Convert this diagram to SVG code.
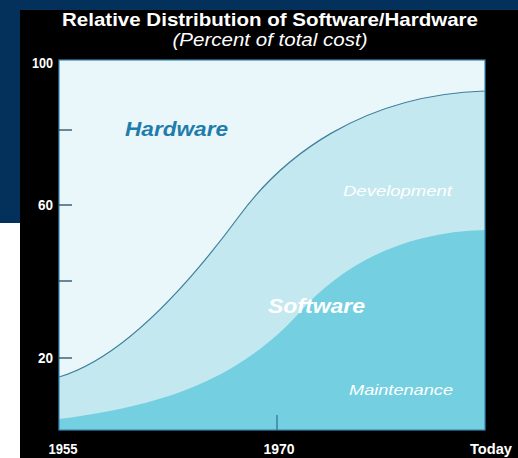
<svg xmlns="http://www.w3.org/2000/svg" width="518" height="458" viewBox="0 0 518 458">
  <style>
    .title { font-family: "Liberation Sans", Arial, sans-serif; fill: #ffffff; text-anchor: middle; }
    .axis { font-family: "Liberation Sans", Arial, sans-serif; font-weight: bold; font-size: 14px; fill: #ffffff; }
    .tick { stroke: #1b3b52; stroke-width: 1.2; }
    .area-label { font-family: "Liberation Sans", Arial, sans-serif; font-style: italic; fill: #ffffff; }
  </style>

  <!-- slide background -->
  <rect x="0" y="0" width="518" height="458" fill="#04305c"/>
  <rect x="0" y="223" width="20" height="235" fill="#ffffff"/>
  <rect x="20" y="10" width="498" height="448" fill="#000000"/>

  <!-- heading -->
  <g id="heading">
    <text class="title" x="270" y="26" font-size="19" font-weight="bold" textLength="416" lengthAdjust="spacingAndGlyphs">Relative Distribution of Software/Hardware</text>
    <text class="title" x="270" y="46" font-size="18" font-style="italic" textLength="195" lengthAdjust="spacingAndGlyphs">(Percent of total cost)</text>
  </g>

  <!-- stacked areas -->
  <g id="plot">
    <rect id="hardware-area" x="59" y="60" width="426" height="370" fill="#e9f7fa"/>
    <path id="development-area" d="M59,377 C110,362 170,310 240,215 C282,158 360,95 485,91 L485,430 L59,430 Z" fill="#c3e8f0"/>
    <path id="maintenance-area" d="M59,419 C140,408 230,390 300,312 C340,267 400,232 485,230 L485,430 L59,430 Z" fill="#74d0e1"/>
    <path id="hardware-curve" d="M59,377 C110,362 170,310 240,215 C282,158 360,95 485,91" fill="none" stroke="#3f7f9c" stroke-width="1.2"/>
    <rect x="59" y="60" width="426" height="370" fill="none" stroke="#3a88b4" stroke-width="1.2"/>
  </g>

  <!-- axes -->
  <g id="y-axis">
    <line class="tick" x1="59" y1="130" x2="72" y2="130"/>
    <line class="tick" x1="59" y1="205" x2="72" y2="205"/>
    <line class="tick" x1="59" y1="281" x2="72" y2="281"/>
    <line class="tick" x1="59" y1="358" x2="72" y2="358"/>
    <text class="axis" x="53" y="68" text-anchor="end" textLength="21" lengthAdjust="spacingAndGlyphs">100</text>
    <text class="axis" x="53" y="210" text-anchor="end" textLength="15" lengthAdjust="spacingAndGlyphs">60</text>
    <text class="axis" x="53" y="363" text-anchor="end" textLength="15" lengthAdjust="spacingAndGlyphs">20</text>
  </g>
  <g id="x-axis">
    <line x1="277" y1="415" x2="277" y2="430" stroke="#2d6f93" stroke-width="1.2"/>
    <text class="axis" x="63" y="454" text-anchor="middle" textLength="29" lengthAdjust="spacingAndGlyphs">1955</text>
    <text class="axis" x="279" y="454" text-anchor="middle" textLength="31" lengthAdjust="spacingAndGlyphs">1970</text>
    <text class="axis" x="491" y="454" text-anchor="middle" textLength="42" lengthAdjust="spacingAndGlyphs">Today</text>
  </g>

  <!-- area labels -->
  <g id="labels">
    <text x="125" y="136" font-family="Liberation Sans, Arial, sans-serif" font-weight="bold" font-style="italic" font-size="20" fill="#1f7cab" textLength="103" lengthAdjust="spacingAndGlyphs">Hardware</text>
    <text class="area-label" x="343" y="196" font-size="15" textLength="109" lengthAdjust="spacingAndGlyphs">Development</text>
    <text class="area-label" x="268" y="313" font-size="21" font-weight="bold" textLength="97" lengthAdjust="spacingAndGlyphs">Software</text>
    <text class="area-label" x="349" y="395" font-size="15" textLength="104" lengthAdjust="spacingAndGlyphs">Maintenance</text>
  </g>
</svg>
